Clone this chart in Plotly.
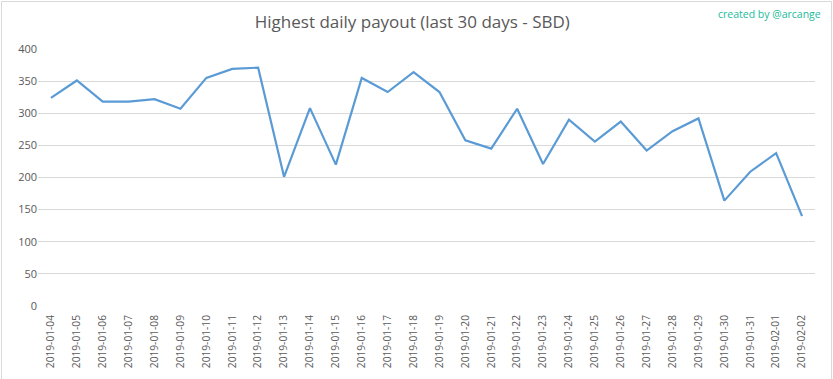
import plotly.graph_objects as go

dates = ["2019-01-04", "2019-01-05", "2019-01-06", "2019-01-07", "2019-01-08", "2019-01-09",
         "2019-01-10", "2019-01-11", "2019-01-12", "2019-01-13", "2019-01-14", "2019-01-15",
         "2019-01-16", "2019-01-17", "2019-01-18", "2019-01-19", "2019-01-20", "2019-01-21",
         "2019-01-22", "2019-01-23", "2019-01-24", "2019-01-25", "2019-01-26", "2019-01-27",
         "2019-01-28", "2019-01-29", "2019-01-30", "2019-01-31", "2019-02-01", "2019-02-02"]
payout = [324, 351, 318, 318, 322, 307, 355, 369, 371, 201, 308, 220, 355, 333, 364, 333,
          258, 245, 307, 221, 290, 256, 287, 242, 272, 292, 164, 209, 238, 140]
y_ticks = [0, 50, 100, 150, 200, 250, 300, 350, 400]

W, H = 833, 379
ml, mr, mt, mb = 38, 18, 49, 73
pw, ph = W - ml - mr, H - mt - mb

fig = go.Figure()
fig.add_trace(go.Scatter(x=dates, y=payout, mode="lines",
                         line=dict(color="#5b9bd5", width=2.2), hoverinfo="x+y"))

fig.update_layout(
    width=W, height=H,
    margin=dict(l=ml, r=mr, t=mt, b=mb, autoexpand=False),
    paper_bgcolor="white", plot_bgcolor="white",
    showlegend=False,
    font=dict(family="Open Sans, Liberation Sans, sans-serif", color="#595959", size=11),
    title=dict(text="Highest daily payout (last 30 days - SBD)", x=0.495, xref="container",
               xanchor="center", y=1 - 22 / H, yanchor="middle",
               font=dict(size=17, color="#595959", family="Open Sans, sans-serif")),
    xaxis=dict(type="category", range=[-0.5, len(dates) - 0.5], tickangle=-90,
               showgrid=False, showline=False, automargin=False,
               ticks="", ticklabelstandoff=6, tickfont=dict(size=10.2, color="#595959"),
               zeroline=False),
    yaxis=dict(range=[0, 400], tickvals=y_ticks, showgrid=True, gridcolor="#d9d9d9",
               gridwidth=1, zeroline=False, showline=False, ticks="", automargin=False,
               tickfont=dict(size=11, color="#595959")),
    annotations=[dict(text="created by @arcange", xref="paper", yref="paper",
                      x=(W - 10 - ml) / pw, y=(H - 14 - mb) / ph, xanchor="right",
                      yanchor="middle", showarrow=False,
                      font=dict(size=10.5, color="#1abc9c", family="Open Sans, sans-serif"))],
    shapes=[dict(type="rect", xref="paper", yref="paper",
                 x0=(1.5 - ml) / pw, x1=(W - 1.5 - ml) / pw,
                 y0=(mb - (H - 1.5)) / ph, y1=(H - 1.5 - mb) / ph,
                 line=dict(color="#d9d9d9", width=1), layer="above")],
)

fig.write_html("out.html", config={"displayModeBar": False},
               post_script="document.body.style.margin='0px';document.body.style.overflow='hidden';")
